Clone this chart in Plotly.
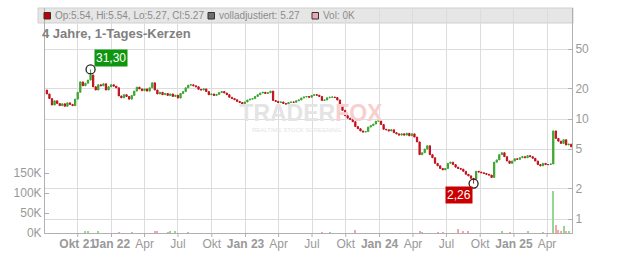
import plotly.graph_objects as go
import pandas as pd
import math

# ---------------- data ----------------
week_start = "2021-07-09"
first_open = 19.5
closes = [
    17.8, 16.0, 13.8, 15.2, 14.3, 13.6, 14.2, 13.4, 14.5, 14.0,
    13.6, 15.8, 18.5, 23.5, 21.5, 22.8, 24.5, 27.5, 21.0, 19.5,
    22.0, 21.5, 22.5, 19.5, 21.0, 22.0, 21.3, 20.5, 17.0, 16.3,
    17.5, 16.8, 15.8, 17.2, 19.0, 20.8, 20.0, 19.2, 20.0, 19.0,
    20.5, 23.0, 19.5, 17.8, 18.5, 17.5, 18.0, 17.2, 17.8, 16.8,
    17.3, 16.2, 18.0, 18.8, 20.5, 21.8, 22.0, 21.5, 21.0, 19.8,
    19.5, 20.0, 18.8, 17.5, 17.8, 17.2, 17.6, 18.4, 18.8, 18.2,
    17.5, 16.5, 16.0, 15.6, 15.0, 14.6, 14.2, 14.8, 15.5, 15.8,
    16.0, 16.8, 17.5, 18.2, 18.5, 18.0, 18.3, 19.0, 15.3, 15.0,
    14.6, 14.8, 14.3, 14.1, 14.6, 14.8, 14.7, 15.2, 15.5, 16.2,
    16.6, 16.8, 16.5, 17.2, 17.5, 17.3, 16.8, 15.3, 15.5, 16.3,
    16.5, 16.6, 16.4, 15.5, 14.0, 12.2, 10.8, 10.2, 9.9, 9.4,
    8.4, 8.0, 7.6, 7.4, 7.5, 8.3, 8.6, 8.9, 9.5, 9.6,
    8.8, 7.9, 7.8, 7.6, 7.8, 7.3, 7.1, 6.9, 7.1, 6.9,
    7.2, 6.8, 7.1, 6.6, 5.9, 4.4, 4.6, 5.0, 5.4, 4.4,
    4.1, 3.6, 3.4, 3.2, 3.1, 3.2, 3.6, 3.7, 3.5, 3.3,
    3.2, 3.15, 3.0, 2.8, 2.7, 2.55, 2.5, 3.0, 2.95, 2.9,
    2.85, 2.8, 2.75, 2.6, 3.7, 3.9, 4.4, 4.6, 4.2, 3.8,
    3.6, 3.8, 4.0, 3.95, 4.1, 4.2, 4.1, 4.3, 4.2, 4.05,
    3.8, 3.5, 3.4, 3.6, 3.5, 3.5, 3.55, 7.6, 6.4, 6.0,
    5.7, 6.2, 5.5, 5.6, 5.27,
]
volume_k = [
    0, 0, 0, 0, 0, 0, 0, 0, 0, 0,
    0, 0, 0, 0, 0, 4, 3, 0, 0, 0,
    6, 0, 0, 0, 0, 0, 0, 0, 2, 0,
    0, 0, 0, 2, 0, 0, 0, 0, 0, 0,
    0, 0, 3, 3, 0, 0, 0, 2, 3, 0,
    6, 0, 0, 0, 0, 2, 0, 0, 0, 0,
    0, 0, 0, 0, 0, 0, 0, 0, 0, 0,
    0, 0, 0, 0, 0, 0, 0, 0, 0, 0,
    0, 0, 0, 0, 0, 0, 0, 0, 0, 0,
    0, 0, 0, 0, 0, 0, 0, 0, 0, 0,
    0, 0, 0, 0, 0, 0, 0, 1, 0, 0,
    1, 0, 0, 0, 0, 0, 0, 0, 0, 0,
    8, 0, 0, 0, 0, 0, 0, 0, 0, 0,
    0, 0, 0, 0, 0, 0, 0, 0, 0, 0,
    0, 0, 0, 0, 0, 3, 2, 0, 0, 0,
    0, 0, 2, 0, 2, 0, 0, 0, 0, 0,
    10, 0, 3, 0, 3, 0, 0, 0, 0, 0,
    0, 0, 0, 0, 0, 0, 0, 3, 0, 0,
    2, 0, 0, 0, 0, 0, 0, 3, 0, 0,
    0, 0, 0, 2, 0, 0, 0, 105, 20, 8,
    6, 17, 6, 5, 0,
]
extreme_dates = ["2021-11-05", "2024-09-13"]
extreme_values = [31.30, 2.26]
extreme_labels = ["31,30", "2,26"]

tick_dates = ["2021-10-01", "2022-01-01", "2022-04-01", "2022-07-01", "2022-10-01",
              "2023-01-01", "2023-04-01", "2023-07-01", "2023-10-01", "2024-01-01",
              "2024-04-01", "2024-07-01", "2024-10-01", "2025-01-01", "2025-04-01"]
tick_text = ["<b>Okt 21</b>", "<b>Jan 22</b>", "Apr", "Jul", "Okt", "<b>Jan 23</b>", "Apr",
             "Jul", "Okt", "<b>Jan 24</b>", "Apr", "Jul", "Okt", "<b>Jan 25</b>", "Apr"]
price_ticks = [1, 2, 5, 10, 20, 50]
vol_ticks = [0, 50000, 100000, 150000]
vol_tick_text = ["0K", "50K", "100K", "150K"]

legend_text = "Op:5.54, Hi:5.54, Lo:5.27, Cl:5.27"
adj_text = "volladjustiert: 5.27"
vol_text = "Vol: 0K"
title_text = "4 Jahre, 1-Tages-Kerzen"

# ---------------- derived ----------------
dates = pd.date_range(week_start, periods=len(closes), freq="7D")
opens = [first_open] + closes[:-1]
highs = [max(o, c) for o, c in zip(opens, closes)]
lows = [min(o, c) for o, c in zip(opens, closes)]
for d, v in zip(extreme_dates, extreme_values):
    k = dates.get_loc(pd.Timestamp(d))
    highs[k] = max(highs[k], v)
    lows[k] = min(lows[k], v)
volume = [v * 1000 for v in volume_k]
up = [c >= o for o, c in zip(opens, closes)]

GREEN = "#3da52f"
RED = "#c1121c"
FONT = "Liberation Sans, Arial, sans-serif"
GRID = "#dcdcdc"
AXIS = "#b0b0b0"
TXT = "#999999"

# plot area in px
W, H = 632, 253
L, R, T, B = 45, 572, 8, 233


def px(x):
    return (x - L) / (R - L)


def py(y):
    return (B - y) / (B - T)


fig = go.Figure()

# watermark (drawn first, behind candles)
fig.add_trace(go.Scatter(
    x=[pd.Timestamp("2023-06-28"), pd.Timestamp("2023-05-20")], y=[11.0, 7.6],
    mode="text",
    text=["<b>TRADER<span style='fill:#f7cfcf'>FOX</span></b>", "REALTIME STOCK SCREENING"],
    textfont=dict(family=FONT, size=[23, 6], color="#e4e4e4"),
    hoverinfo="skip", showlegend=False, cliponaxis=False,
))

fig.add_trace(go.Bar(
    x=dates, y=volume, yaxis="y2",
    marker=dict(color=["#93d793" if u else "#f3a6ae" for u in up], line=dict(width=0)),
    width=2.5 * 86400000, showlegend=False, hoverinfo="skip",
))

fig.add_trace(go.Candlestick(
    x=dates, open=opens, high=highs, low=lows, close=closes,
    increasing=dict(line=dict(color=GREEN, width=1), fillcolor=GREEN),
    decreasing=dict(line=dict(color=RED, width=1), fillcolor=RED),
    whiskerwidth=0, showlegend=False, hoverinfo="skip",
))

fig.add_trace(go.Scatter(
    x=[pd.Timestamp(d) for d in extreme_dates], y=extreme_values, mode="markers",
    marker=dict(symbol="circle-open", size=9, color="#222222", line=dict(width=1.3)),
    showlegend=False, hoverinfo="skip", cliponaxis=False,
))

annotations = []
for d, v, lab, col, xa, ya, xs, ys in zip(
        extreme_dates, extreme_values, extreme_labels, ["#0f960f", "#c80000"],
        ["left", "right"], ["bottom", "top"], [3, -1], [2, -2]):
    annotations.append(dict(
        x=d, y=math.log10(v), xref="x", yref="y", text=lab, showarrow=False,
        xanchor=xa, yanchor=ya, xshift=xs, yshift=ys,
        bgcolor=col, borderpad=1, font=dict(family=FONT, size=12, color="white"),
    ))

# title & legend texts
annotations.append(dict(x=px(40), y=py(33), xref="paper", yref="paper", text="<b>" + title_text + "</b>",
                        showarrow=False, xanchor="left", yanchor="middle",
                        font=dict(family=FONT, size=13, color="#808080")))
for x0, t in [(53, legend_text), (217, adj_text), (321, vol_text)]:
    annotations.append(dict(x=px(x0), y=py(15.5), xref="paper", yref="paper", text=t,
                            showarrow=False, xanchor="left", yanchor="middle",
                            font=dict(family=FONT, size=10, color="#8c8c8c")))

shapes = [
    dict(type="rect", xref="paper", yref="paper", x0=px(38), x1=px(573), y0=py(23), y1=py(8),
         fillcolor="#e6e6e6", line=dict(color="#cfcfcf", width=1), layer="below"),
]
for x0, c in [(44, "#c00000"), (208, "#6e6e6e"), (312, "#f0a7b4")]:
    shapes.append(dict(type="rect", xref="paper", yref="paper", x0=px(x0), x1=px(x0 + 6.5),
                       y0=py(19), y1=py(12.5), fillcolor=c, line=dict(color="#333333", width=1)))
# outside tick marks under the date axis
for d in tick_dates:
    shapes.append(dict(type="line", xref="x", yref="paper", x0=d, x1=d, y0=0, y1=py(B + 4),
                       line=dict(color=AXIS, width=1)))

fig.update_layout(
    width=W, height=H,
    margin=dict(l=L, r=W - R, t=T, b=H - B, autoexpand=False),
    paper_bgcolor="white", plot_bgcolor="rgba(0,0,0,0)",
    font=dict(family=FONT, size=12, color=TXT),
    showlegend=False, bargap=0,
    annotations=annotations, shapes=shapes,
    xaxis=dict(
        type="date", range=["2021-07-03 22:00", "2025-06-08"],
        tickvals=tick_dates, ticktext=tick_text, tickangle=0, automargin=False,
        showgrid=True, gridcolor=GRID, gridwidth=1,
        showline=True, linecolor=AXIS, linewidth=1,
        ticks="", ticklen=0,
        tickfont=dict(family=FONT, size=12, color=TXT),
        rangeslider=dict(visible=False), zeroline=False, fixedrange=True,
    ),
    yaxis=dict(
        type="log", side="right", range=[-0.14, 2.11], automargin=False,
        tickvals=price_ticks, ticktext=[str(t) for t in price_ticks],
        showgrid=True, gridcolor=GRID, gridwidth=1,
        showline=True, linecolor=AXIS, linewidth=1,
        ticks="inside", ticklen=4, tickcolor=AXIS,
        tickfont=dict(family=FONT, size=12, color=TXT), zeroline=False,
    ),
    yaxis2=dict(
        overlaying="y", side="left", range=[0, 150000 * (B - T) / 60], automargin=False,
        tickvals=vol_ticks, ticktext=vol_tick_text,
        showgrid=False, showline=True, linecolor=AXIS, linewidth=1,
        ticks="inside", ticklen=4, tickcolor=AXIS,
        tickfont=dict(family=FONT, size=12, color=TXT), zeroline=False,
    ),
)

fig.write_html("out.html")
